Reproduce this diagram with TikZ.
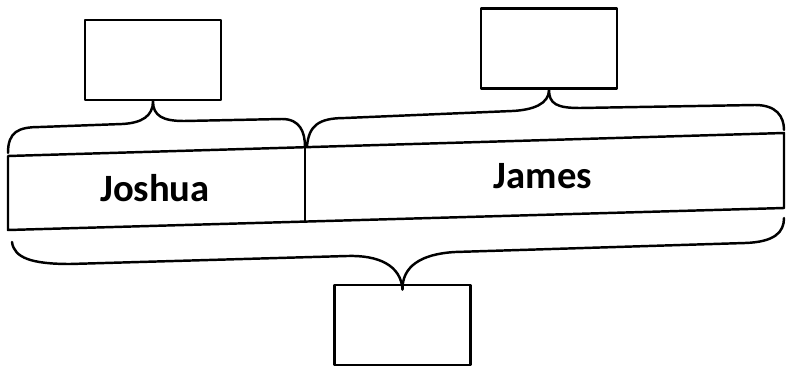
\documentclass[tikz,border=0pt]{standalone}
\usepackage{fontspec}
\setmainfont{Carlito}
\begin{document}
\begin{tikzpicture}[x=0.02cm,y=-0.02cm,
  line width=1.4pt, line join=round, line cap=round,
  blank/.style={draw, rectangle, line width=1.5pt, minimum width=2.72cm, minimum height=1.6cm, inner sep=0pt},
  label/.style={font=\bfseries\fontsize{22}{25}\selectfont, inner sep=0pt},
  brace/.style={draw, line width=1.4pt}]
\useasboundingbox (0,0) rectangle (787,372);
% blank boxes
\node[blank] (bl) at (153,60) {};
\node[blank] (br) at (549,48.5) {};
\node[blank] (bb) at (402.5,325) {};
% band corners
\coordinate (tl) at (8,156);
\coordinate (tr) at (784,133);
\coordinate (bl0) at (8,230);
\coordinate (br0) at (784,208);
\coordinate (dt) at (305,147);
\coordinate (db) at (305,222);
% band
\draw (tl) -- (tr) -- (br0) -- (bl0) -- cycle;
\draw (dt) -- (db);
% labels
\node[label] (joshua) at (155,188) {Joshua};
\node[label] (james) at (543,176) {James};
% top-left brace
\draw[brace] (8,153) .. controls (8,132) and (18,127) .. (40,127) -- (122,124)
  .. controls (142,123) and (153,116) .. (bl.south)
  .. controls (153,116) and (163,121) .. (184,121) -- (282,119)
  .. controls (300,119) and (305,132) .. (dt);
% top-right brace
\draw[brace] (307,146) .. controls (309,126) and (318,118) .. (345,118) -- (512,111)
  .. controls (533,110) and (549,104) .. (br.south)
  .. controls (549,104) and (557,108) .. (580,108) -- (755,105)
  .. controls (776,105) and (784,116) .. (784,130);
% bottom brace
\draw[brace] (12,242) .. controls (14,258) and (32,264) .. (70,264) -- (347,256)
  .. controls (378,255) and (401,265) .. ([yshift=-0.12cm]bb.north)
  .. controls (402,267) and (420,254) .. (455,252) -- (745,243)
  .. controls (775,242) and (784,232) .. (784,218);
\end{tikzpicture}
\end{document}
